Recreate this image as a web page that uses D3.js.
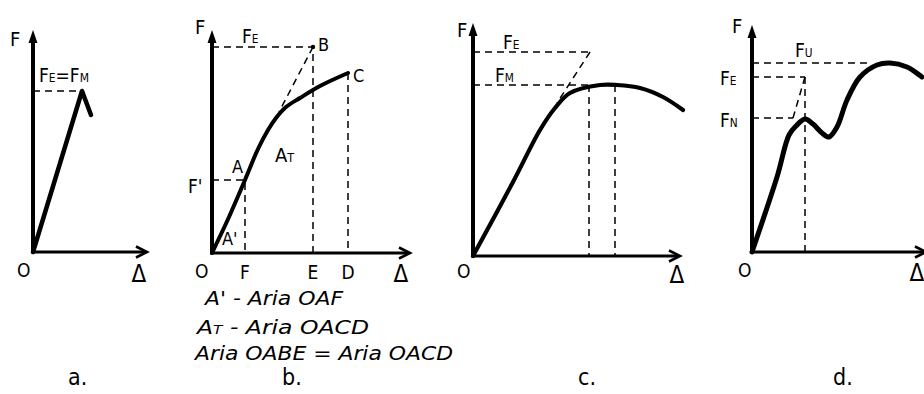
<!DOCTYPE html>
<html>
<head>
<meta charset="utf-8">
<script src="https://cdn.jsdelivr.net/npm/d3@7"></script>
<style>
  html, body { margin: 0; padding: 0; background: #fff; }
  svg { display: block; }
  text { font-family: 'Liberation Sans Narrow', 'DejaVu Sans Condensed', 'DejaVu Sans', sans-serif; fill: #000; }
</style>
</head>
<body>
<svg id="fig" width="924" height="394"></svg>
<script>
// Force–elongation diagrams (F vs Δ), four material behaviours a–d.
// Values are in arbitrary drawing units of force and elongation.

// a. brittle: linear up to the maximum, then sudden drop
const curveA = [[0, 0], [49, 161], [58, 137]];
const levelA = 161;               // F_E = F_M

// b. no clear yield point: conventional elastic limit by equal areas
const curveB = [[0, 0], [17, 36], [33, 73], [46, 104], [56, 123], [64, 135], [74, 146], [88, 155], [108, 167], [136, 180]];
const pointAB = [33, 73];          // A (with F')
const pointBB = [101, 206];        // B (F_E level)
const tangentB = [67, 141];        // lower end of the dashed B line
const xEB = 101, xDB = 136;

// c. ductile with maximum force F_M below F_E
const curveC = [[0, 0], [40, 74], [67, 126], [82, 148], [97, 163], [127, 171], [144, 171], [167, 168], [190, 159], [210, 146]];
const levelFE_C = 204, levelFM_C = 171;
const tangentC = [[117, 204], [84, 153]];
const verticalsC = [116, 142];

// d. material with a flow (yield) zone
const curveD = [[0, 0], [25, 75], [37, 117], [44, 126], [53, 133], [61, 128], [70, 119], [77, 115], [85, 125], [95, 152], [108, 175], [125, 187], [138, 189], [155, 185], [170, 175]];
const levelFU_D = 189, levelFE_D = 175, levelFN_D = 134;
const tangentD = [[53, 175], [41, 134]];
const verticalD = 53;

// notes under diagram b
const notesB = [["A'", '', ' - Aria OAF'], ['A', 'T', ' - Aria OACD'], ['', '', 'Aria OABE = Aria OACD']];
const captions = ['a.', 'b.', 'c.', 'd.'];

const svg = d3.select('#fig');

function panel(xr, yr, xMax, yMax) {
  const x = d3.scaleLinear().domain([0, xMax]).range(xr);
  const y = d3.scaleLinear().domain([0, yMax]).range(yr);
  return { x, y };
}

const pA = panel([33, 147], [252, 30], 114, 222);
const pB = panel([212, 410], [253, 30], 198, 223);
const pC = panel([473, 680], [256, 23], 207, 233);
const pD = panel([752, 926], [252, 25], 174, 227);

function axes(p) {
  const g = svg.append('g');
  const [x0, x1] = p.x.range();
  const [y0, y1] = p.y.range();
  g.append('line').attr('x1', x0).attr('y1', y0).attr('x2', x0).attr('y2', y1 + 6)
    .attr('stroke', '#000').attr('stroke-width', 4);
  g.append('path').attr('d', `M${x0},${y1} L${x0 - 4.5},${y1 + 13} L${x0 + 4.5},${y1 + 13} Z`).attr('fill', '#000');
  g.append('line').attr('x1', x0 - 2).attr('y1', y0).attr('x2', x1 - 1).attr('y2', y0)
    .attr('stroke', '#000').attr('stroke-width', 3);
  g.append('path').attr('d', `M${x1 - 11},${y0 - 5.5} L${x1},${y0} L${x1 - 11},${y0 + 5.5}`)
    .attr('fill', 'none').attr('stroke', '#000').attr('stroke-width', 2.6);
}

function dashed(p, pts) {
  svg.append('path')
    .attr('d', d3.line().x(d => p.x(d[0])).y(d => p.y(d[1]))(pts))
    .attr('fill', 'none').attr('stroke', '#000').attr('stroke-width', 1.5)
    .attr('stroke-dasharray', '7,5');
}

function curve(p, data, kind, w) {
  svg.append('path')
    .attr('d', d3.line().x(d => p.x(d[0])).y(d => p.y(d[1])).curve(kind)(data))
    .attr('fill', 'none').attr('stroke', '#000').attr('stroke-width', w)
    .attr('stroke-linecap', 'round').attr('stroke-linejoin', 'round');
}

// label with optional subscript
function label(x, y, main, sub, size, opts = {}) {
  const t = svg.append('text').attr('x', x).attr('y', y).attr('font-size', size);
  if (opts.italic) t.attr('font-style', 'italic');
  t.append('tspan').text(main);
  if (sub) t.append('tspan').attr('font-size', size * 0.62).text(sub);
  return t;
}

function delta(x, y) {
  svg.append('text').attr('x', x).attr('y', y).attr('text-anchor', 'middle').attr('font-size', 24).text('Δ');
}

// ---- panel a ----
axes(pA);
dashed(pA, [[0, levelA], [curveA[1][0], levelA]]);
curve(pA, curveA, d3.curveLinear, 4.5);
label(pA.x(0) - 16, pA.y(0) + 25, 'O', null, 19);
delta(pA.x.range()[1] - 8, pA.y(0) + 30);
label(pA.x(0) - 23, pA.y.range()[1] + 16, 'F', null, 20);
label(pA.x(6), pA.y(levelA) - 9, 'F', 'E', 19).append('tspan').attr('font-size', 19).text('=F')
  .append('tspan').attr('font-size', 12).text('M');

// ---- panel b ----
axes(pB);
dashed(pB, [[0, pointBB[1]], pointBB, [xEB, 0]]);
dashed(pB, [pointBB, tangentB]);
dashed(pB, [[0, pointAB[1]], pointAB, [pointAB[0], 0]]);
dashed(pB, [[xDB, curveB[curveB.length - 1][1]], [xDB, 0]]);
curve(pB, curveB, d3.curveCatmullRom.alpha(0.5), 4);
svg.append('circle').attr('cx', pB.x(pointBB[0])).attr('cy', pB.y(pointBB[1])).attr('r', 2.2);
label(pB.x(0) - 17, pB.y(0) + 25, 'O', null, 19);
delta(pB.x.range()[1] - 9, pB.y(0) + 29);
label(pB.x(0) - 17, pB.y.range()[1] + 4, 'F', null, 20);
label(pB.x(30), pB.y(pointBB[1]) - 4, 'F', 'E', 19);
label(pB.x(pointBB[0]) + 5, pB.y(pointBB[1]) + 4, 'B', null, 18);
label(pB.x(xDB) + 5, pB.y(curveB[curveB.length - 1][1]) + 9, 'C', null, 18);
label(pB.x(63), pB.y(91), 'A', 'T', 20);
label(pB.x(pointAB[0]) - 13, pB.y(pointAB[1]) - 7, 'A', null, 18);
label(pB.x(0) - 24, pB.y(pointAB[1]) + 13, "F'", null, 19);
label(pB.x(10), pB.y(8), "A'", null, 18);
[['F', pointAB[0]], ['E', xEB], ['D', xDB]].forEach(([s, v]) => {
  svg.append('text').attr('x', pB.x(v)).attr('y', pB.y(0) + 26).attr('text-anchor', 'middle').attr('font-size', 19).text(s);
});

// notes for b
const noteX = [205, 197, 195];
const noteY = [305, 334, 360];
const noteW = [138, 172, 258];
notesB.forEach((n, i) => {
  const t = svg.append('text').attr('x', noteX[i]).attr('y', noteY[i]).attr('font-size', 20)
    .attr('font-style', 'italic').attr('textLength', noteW[i]).attr('lengthAdjust', 'spacingAndGlyphs');
  if (n[0]) t.append('tspan').text(n[0]);
  if (n[1]) t.append('tspan').attr('font-size', 13).text(n[1]);
  t.append('tspan').text(n[2]);
});

// ---- panel c ----
axes(pC);
dashed(pC, [[0, levelFE_C], tangentC[0]]);
dashed(pC, tangentC);
dashed(pC, [[0, levelFM_C], [verticalsC[1], levelFM_C]]);
verticalsC.forEach(v => dashed(pC, [[v, levelFM_C], [v, 0]]));
curve(pC, curveC, d3.curveCatmullRom.alpha(0.5), 4.2);
label(pC.x(0) - 16, pC.y(0) + 22, 'O', null, 19);
delta(pC.x.range()[1] - 3, pC.y(0) + 27);
label(pC.x(0) - 16, pC.y.range()[1] + 14, 'F', null, 20);
label(pC.x(30), pC.y(levelFE_C) - 3, 'F', 'E', 19);
label(pC.x(22), pC.y(levelFM_C) - 3, 'F', 'M', 19);

// ---- panel d ----
axes(pD);
dashed(pD, [[0, levelFU_D], [120, levelFU_D]]);
dashed(pD, [[0, levelFE_D], tangentD[0]]);
dashed(pD, [[0, levelFN_D], tangentD[1]]);
dashed(pD, tangentD);
dashed(pD, [[verticalD, levelFE_D], [verticalD, 0]]);
curve(pD, curveD, d3.curveCatmullRom.alpha(0.5), 5);
label(pD.x(0) - 14, pD.y(0) + 25, 'O', null, 19);
delta(917, pD.y(0) + 29);
label(pD.x(0) - 20, pD.y.range()[1] + 8, 'F', null, 20);
label(pD.x(43), pD.y(levelFU_D) - 6, 'F', 'U', 19);
label(pD.x(0) - 32, pD.y(levelFE_D) + 8, 'F', 'E', 19);
label(pD.x(0) - 32, pD.y(levelFN_D) + 9, 'F', 'N', 19);

// panel captions
const captionX = [68, 282, 578, 833];
captions.forEach((c, i) => {
  svg.append('text').attr('x', captionX[i]).attr('y', 385).attr('font-size', 23).text(c);
});
</script>
</body>
</html>
